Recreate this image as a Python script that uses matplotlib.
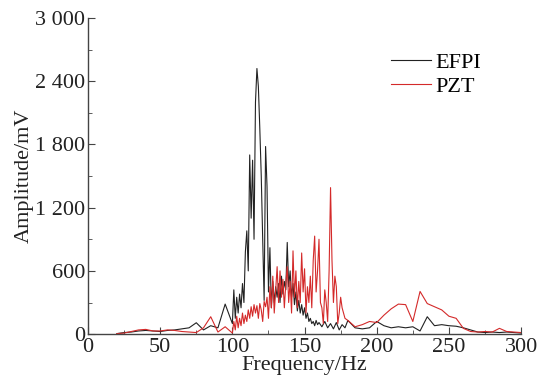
import matplotlib
matplotlib.use("Agg")
import matplotlib.pyplot as plt
from matplotlib.ticker import MultipleLocator, FuncFormatter

plt.rcParams['font.family'] = ['Liberation Serif', 'DejaVu Serif']

# EFPI spectrum (Hz, mV)
efpi_freq = [20, 25, 30, 35, 40, 45, 50, 55, 60, 65, 70, 75, 80, 85, 90, 95,
             100, 101, 102, 103, 104, 105, 106, 107, 108, 109, 110, 111, 112, 113, 114,
             115, 116, 117, 118, 119, 120, 121, 122, 123, 124, 125, 126, 127, 128, 129,
             130, 131, 132, 133, 134, 135, 136, 137, 138, 139, 140, 141, 142, 143, 144,
             145, 146, 147, 148, 149, 150, 151, 152, 153, 154, 155, 156, 157, 158, 159,
             160, 162, 164, 166, 168, 170, 172, 174, 176, 178, 180, 185, 190, 195, 200,
             205, 210, 215, 220, 225, 230, 235, 240, 245, 250, 255, 260, 265, 270, 275,
             280, 285, 290, 295, 300]
efpi_amp = [5, 15, 20, 30, 35, 30, 25, 35, 40, 50, 60, 108, 40, 80, 60, 285,
            100, 420, 150, 350, 200, 380, 250, 480, 300, 780, 980, 600, 1700, 1100, 1650,
            900, 2200, 2520, 2350, 1950, 1500, 900, 320, 1780, 1400, 400, 820, 250, 500, 300,
            450, 350, 480, 300, 550, 380, 500, 420, 870, 450, 600, 350, 480, 280, 400,
            220, 320, 200, 280, 180, 250, 150, 200, 120, 150, 100, 120, 80, 130, 90,
            110, 70, 120, 60, 100, 50, 110, 40, 90, 60, 130, 60, 50, 60, 120,
            80, 60, 70, 60, 70, 30, 165, 80, 90, 80, 75, 60, 40, 20, 15,
            20, 15, 20, 15, 10]

# PZT spectrum (Hz, mV)
pzt_freq = [20, 25, 30, 35, 40, 45, 50, 55, 60, 65, 70, 75, 80, 85, 90, 95,
            100, 101, 102, 103, 104, 105, 106, 107, 108, 109, 110, 111, 112, 113, 114,
            115, 116, 117, 118, 119, 120, 121, 122, 123, 124, 125, 126, 127, 128, 129,
            130, 131, 132, 133, 134, 135, 136, 137, 138, 139, 140, 141, 142, 143, 144,
            145, 146, 147, 148, 149, 150, 151, 152, 153, 154, 155, 156, 157, 158, 159,
            160, 161, 162, 163, 164, 165, 166, 167, 168, 169, 170, 171, 172, 173, 174,
            175, 176, 178, 180, 185, 190, 195, 200, 205, 210, 215, 220, 225, 230, 235,
            240, 245, 250, 255, 260, 265, 270, 275, 280, 285, 290, 295, 300]
pzt_amp = [5, 10, 25, 40, 45, 30, 30, 40, 35, 25, 20, 15, 60, 165, 20, 70,
           10, 120, 40, 170, 60, 150, 80, 200, 100, 180, 120, 230, 150, 260, 170,
           280, 200, 270, 150, 290, 230, 120, 310, 260, 350, 150, 450, 250, 550, 200,
           420, 640, 300, 600, 350, 520, 250, 480, 640, 300, 500, 200, 790, 350, 600,
           250, 500, 300, 770, 400, 620, 200, 450, 300, 550, 250, 700, 930, 400, 600,
           900, 300, 250, 100, 420, 300, 120, 600, 1390, 700, 300, 550, 450, 100, 200,
           350, 250, 150, 130, 70, 90, 120, 110, 180, 240, 285, 280, 120, 405, 290,
           260, 230, 170, 150, 55, 25, 20, 25, 20, 55, 25, 20, 15]

fig = plt.figure(figsize=(5.4, 3.81), dpi=100)
ax = fig.add_axes([0.163, 0.123, 0.802, 0.830])

ax.plot(efpi_freq, efpi_amp, color='#222222', lw=0.8, label='EFPI')
ax.plot(pzt_freq, pzt_amp, color='#d42a2a', lw=0.8, label='PZT')

ax.set_xlim(0, 300)
ax.set_ylim(0, 3000)
ax.xaxis.set_major_locator(MultipleLocator(50))
ax.xaxis.set_minor_locator(MultipleLocator(25))
ax.yaxis.set_major_locator(MultipleLocator(600))
ax.yaxis.set_minor_locator(MultipleLocator(300))
ax.yaxis.set_major_formatter(FuncFormatter(lambda v, p: f"{int(v):,}".replace(",", " ")))

for s in ['top', 'right']:
    ax.spines[s].set_visible(False)
for s in ['left', 'bottom']:
    ax.spines[s].set_color('#444444')
    ax.spines[s].set_linewidth(1.0)

ax.tick_params(which='both', direction='in', colors='#444444', labelcolor='#222222',
               labelsize=16)
ax.tick_params(which='major', length=5)
ax.tick_params(which='minor', length=3)
ax.tick_params(axis='x', pad=3)
ax.tick_params(axis='y', pad=2)

ax.set_xlabel('Frequency/Hz', fontsize=16, color='#222222', labelpad=-1)
ax.set_ylabel('Amplitude/mV', fontsize=16, color='#222222', labelpad=1)

ax.legend(loc='upper right', bbox_to_anchor=(0.955, 0.955), frameon=False, fontsize=16,
          handlelength=1.8, handletextpad=0.2, labelspacing=0.15)

fig.savefig('out.png', dpi=100)
